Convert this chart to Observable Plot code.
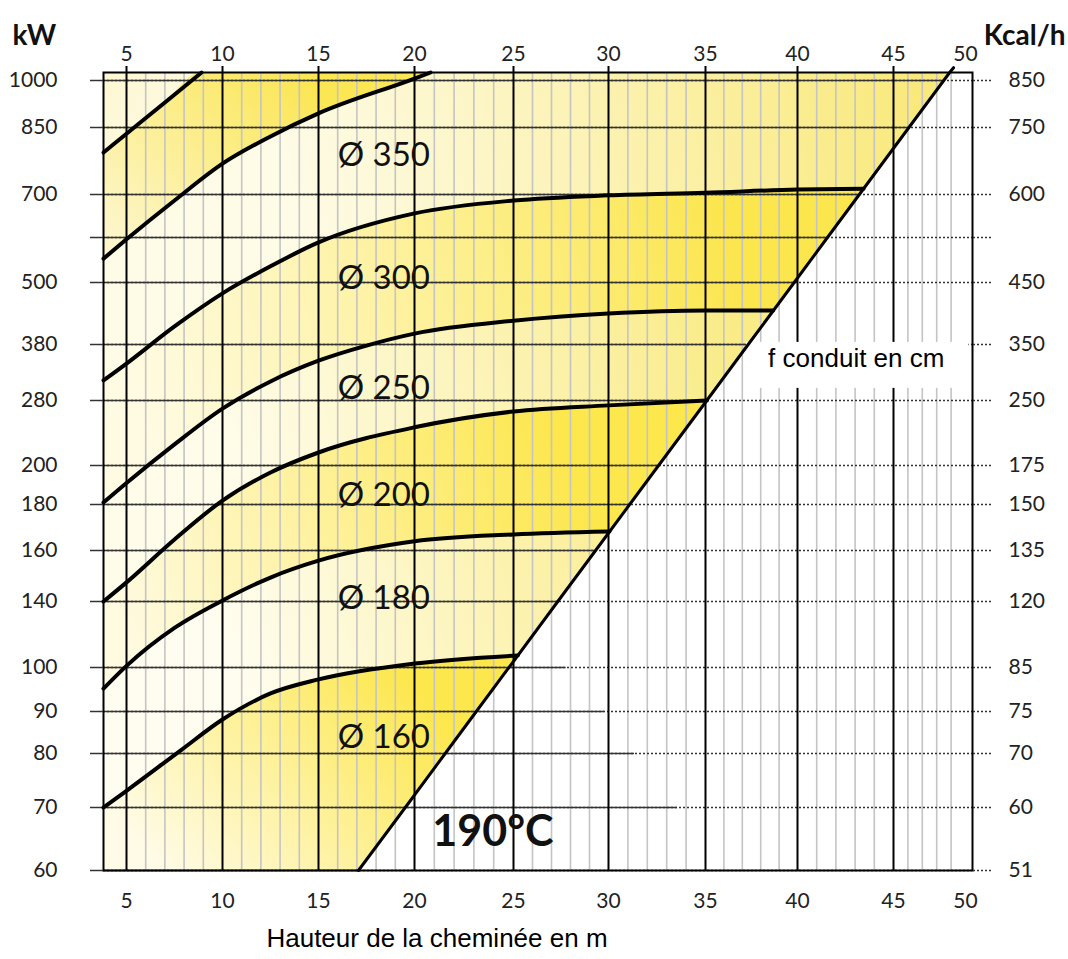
<!DOCTYPE html>
<html><head><meta charset="utf-8">
<script src="https://cdn.jsdelivr.net/npm/d3@7"></script>
<script src="https://cdn.jsdelivr.net/npm/@observablehq/plot@0.6"></script>
<style>html,body{margin:0;padding:0;background:#fff;overflow:hidden}#chart svg{display:block}</style>
</head><body><div id="chart"></div>
<script>
// ---------- data ----------
const kwTicks   = [60, 70, 80, 90, 100, 140, 160, 180, 200, 280, 380, 500, 600, 700, 850, 1000];
const kwLabels  = ["60","70","80","90","100","140","160","180","200","280","380","500","","700","850","1000"];
const kcalLabels= ["51","60","70","75","85","120","135","150","175","250","350","450","","600","750","850"];
const heightTicks = [5, 10, 15, 20, 25, 30, 35, 40, 45, 50];
const majorLines  = [5, 10, 15, 20, 25, 30, 35, 40, 45];
const minorLines  = [6,7,8,9,11,12,13,14,16,17,18,19,21,22,23,24,26,27,28,29,31,32,33,34,36,37,38,39,41,42,43,44,46,47,48,49];
// where each kW row stops being solid (m)
const rowSolidEnd = [17.08, 33.56, 31.34, 29.79, 27.77, 27.33, 29.32, 31.09, 32.58, 35.07, 37.32, 39.82, 41.56, 43.22, 46.07, 48.49];

// 190°C limit line
const diagH  = [17.08, 19.52, 21.55, 23.12, 24.77, 27.33, 29.32, 31.09, 32.58, 35.07, 37.32, 39.82, 41.56, 43.22, 46.07, 48.49, 48.90, 49.17];
const diagKw = [60, 70, 80, 90, 100, 140, 160, 180, 200, 280, 380, 500, 600, 700, 850, 1000, 1025, 1040];

// boundary curves (height m, power kW)
const c1H  = [3.8, 5, 7, 8.91];
const c1Kw = [794, 836, 930, 1025];
const c2H  = [3.8, 5, 7.5, 10, 12.5, 15, 20, 20.81];
const c2Kw = [553, 596, 686, 769, 830, 895, 1006, 1025];
const c3H  = [3.8, 5, 7.5, 10, 12.5, 15, 20, 25, 30, 35, 40, 43.44];
const c3Kw = [316, 346, 415, 479, 536, 589, 656, 686, 698, 704, 711, 713];
const c4H  = [3.8, 5, 7.5, 10, 12.5, 15, 17.5, 20, 25, 30, 35, 38.68];
const c4Kw = [181, 191, 226, 270, 314, 351, 378, 401, 426, 440, 446, 446];
const c5H  = [3.8, 5, 7.5, 10, 12.5, 15, 20, 25, 30, 35.07];
const c5Kw = [140, 147.5, 164.8, 182, 196.4, 216, 247, 266.5, 274, 280];
const c6H  = [3.8, 5, 7.5, 10, 12.5, 15, 20, 25, 30.05];
const c6Kw = [95.2, 101, 124, 140.4, 149.4, 156, 164, 167, 168.3];
const c7H  = [3.8, 5, 7.81, 10, 12.5, 15, 20, 25.23];
const c7Kw = [70, 73.1, 80.7, 88.1, 94.1, 97.3, 102.4, 107.3];

const bandNames = ["Ø 350", "Ø 300", "Ø 250", "Ø 200", "Ø 180", "Ø 160"];
const bandLabelKw = [787, 508, 301, 184.6, 141.2, 83.8];
const bandLabelH = 16.0;

const tempLabel = "190°C";
const annotationText = "f conduit en cm";
const titleText = "Hauteur de la cheminée en m";

// ---------- layout / style config ----------
const X_DOMAIN = [3.8, 5, 10, 15, 20, 25, 30, 35, 40, 45, 50];
const X_RANGE  = [103, 126, 222, 318, 414, 513, 608, 705, 797, 893, 965];
const Y_DOMAIN = [60, 70, 80, 90, 100, 140, 160, 180, 200, 280, 380, 500, 600, 700, 850, 1000, 1025];
const Y_RANGE  = [870, 807, 753, 711, 667, 601, 550, 504, 465, 400, 344, 282, 237, 194, 127, 80, 72];
const TOP = 1025, BOTTOM = 60, LEFT = 3.8, RIGHT = 50, DIAG_TOP_H = 48.90;
const TICK_FONT = 21;

const bandFills = [
  {id: "g0", from: [3.8, 1025], to: [9, 800],  c0: "#fdf7d2", c1: "#fefbe6"},
  {id: "g1", from: [14, 1025], to: [5, 560],   c0: "#fbe654", c1: "#fdf6cc"},
  {id: "g2", from: [47, 950],  to: [14, 640],  c0: "#f9e97c", c1: "#fefbe6"},
  {id: "g3", from: [36, 690],  to: [5, 330],   c0: "#fbe64e", c1: "#fffbe3"},
  {id: "g4", from: [37, 440],  to: [10, 220],  c0: "#f9eb85", c1: "#fffcea"},
  {id: "g5", from: [27, 265],  to: [4, 150],   c0: "#fce74d", c1: "#fffae0"},
  {id: "g6", from: [29, 168],  to: [10, 115],  c0: "#fbef9c", c1: "#fffdf0"},
  {id: "g7", from: [19, 102],  to: [7, 60],    c0: "#fce74d", c1: "#fffbe6"}
];

// ---------- build tables ----------
const rows = (h, kw) => h.map((x, i) => ({h: x, kw: kw[i]}));
const curves = [rows(c1H, c1Kw), rows(c2H, c2Kw), rows(c3H, c3Kw), rows(c4H, c4Kw), rows(c5H, c5Kw), rows(c6H, c6Kw), rows(c7H, c7Kw)];
const diag = rows(diagH, diagKw);
const gridRows = kwTicks.map((kw, i) => ({kw, end: rowSolidEnd[i]}));
const bandLabels = bandNames.map((t, i) => ({t, kw: bandLabelKw[i]}));
const kwFmt = new Map(kwTicks.map((k, i) => [k, kwLabels[i]]));
const kcalFmt = new Map(kwTicks.map((k, i) => [k, kcalLabels[i]]));

// fill regions: area below each boundary (stacked, top to bottom)
const topEdge = [{h: LEFT, kw: TOP}, {h: DIAG_TOP_H, kw: TOP}];
const fillShapes = [
  topEdge,
  [...curves[0], {h: DIAG_TOP_H, kw: TOP}],
  [...curves[1], {h: DIAG_TOP_H, kw: TOP}],
  curves[2], curves[3], curves[4], curves[5], curves[6]
];

const marks = [];
fillShapes.forEach((d, i) => marks.push(
  Plot.areaY(d, {x: "h", y1: BOTTOM, y2: "kw", curve: "monotone-x", fill: `url(#${bandFills[i].id})`})
));
// white region beyond the 190°C line
marks.push(Plot.areaX(diag, {y: "kw", x1: "h", x2: RIGHT, fill: "white", curve: "linear"}));
// grid
marks.push(Plot.ruleX(minorLines, {stroke: "#c4c4c4", strokeWidth: 1.6}));
marks.push(Plot.ruleY(kwTicks, {stroke: "#333", strokeWidth: 1.4, strokeDasharray: "2,2"}));
marks.push(Plot.ruleY(gridRows, {y: "kw", x1: LEFT, x2: "end", stroke: "#333", strokeWidth: 1.5}));
marks.push(Plot.ruleX(majorLines, {stroke: "#000", strokeWidth: 2}));
marks.push(Plot.frame({stroke: "#000", strokeWidth: 2}));
// axes
marks.push(Plot.axisX({anchor: "top", ticks: majorLines, tickSize: 7, tickFormat: () => "", stroke: "#000", strokeWidth: 2, label: null}));
marks.push(Plot.axisX({anchor: "top", ticks: heightTicks, tickSize: 0, tickPadding: 12, fontSize: TICK_FONT, label: null}));
marks.push(Plot.axisX({anchor: "bottom", ticks: heightTicks, tickSize: 0, tickPadding: 23, fontSize: TICK_FONT, label: null}));
marks.push(Plot.axisY({anchor: "left", ticks: kwTicks, tickSize: 13, tickPadding: 33, fontSize: TICK_FONT, tickFormat: d => kwFmt.get(d), stroke: "#333", strokeWidth: 1.5, label: null}));
marks.push(Plot.axisY({anchor: "right", ticks: kwTicks, tickSize: 18, tickPadding: 18, fontSize: TICK_FONT, tickFormat: d => kcalFmt.get(d), stroke: "#333", strokeWidth: 1.5, strokeDasharray: "2,2", label: null}));
// annotation (white box added after render)
marks.push(Plot.text([annotationText], {x: 43.06, y: 354, fontFamily: "Liberation Sans, Arial, sans-serif", fontSize: 26, fill: "#000"}));
// curves and limit line
curves.forEach(d => marks.push(Plot.line(d, {x: "h", y: "kw", curve: "monotone-x", stroke: "#000", strokeWidth: 4})));
marks.push(Plot.line(diag, {x: "h", y: "kw", curve: "linear", stroke: "#000", strokeWidth: 3}));
// labels
marks.push(Plot.text(bandLabels, {x: bandLabelH, y: "kw", text: "t", textAnchor: "start", fontSize: 33, fill: "#111"}));
marks.push(Plot.text([tempLabel], {x: 20.9, y: 66, textAnchor: "start", fontSize: 43, fontWeight: "bold", fill: "#111"}));
marks.push(Plot.text(["kW"], {frameAnchor: "top-left", dx: -91, dy: -47, textAnchor: "start", fontSize: 28, fontWeight: "bold", fill: "#111"}));
marks.push(Plot.text(["Kcal/h"], {frameAnchor: "top-right", dx: 93, dy: -47, textAnchor: "end", fontSize: 28, fontWeight: "bold", fill: "#111"}));
marks.push(Plot.text([titleText], {frameAnchor: "bottom", dx: -101, dy: 76, fontFamily: "Liberation Sans, Arial, sans-serif", fontSize: 26, fill: "#000"}));

const plot = Plot.plot({
  width: 1068, height: 959,
  marginLeft: 103, marginRight: 96, marginTop: 72, marginBottom: 89,
  x: {type: "linear", domain: X_DOMAIN, range: X_RANGE},
  y: {type: "linear", domain: Y_DOMAIN, range: Y_RANGE},
  style: {fontFamily: "Lato, sans-serif", fontSize: "21px", color: "#222", background: "white", overflow: "visible"},
  marks
});
document.getElementById("chart").appendChild(plot);

// gradients defined in data space, converted with Plot's own scales
const sx = plot.scale("x"), sy = plot.scale("y");
const svg = d3.select(plot);
const defs = svg.insert("defs", ":first-child");
for (const b of bandFills) {
  const g = defs.append("linearGradient").attr("id", b.id).attr("gradientUnits", "userSpaceOnUse")
    .attr("x1", sx.apply(b.from[0])).attr("y1", sy.apply(b.from[1]))
    .attr("x2", sx.apply(b.to[0])).attr("y2", sy.apply(b.to[1]));
  g.append("stop").attr("offset", 0).attr("stop-color", b.c0);
  g.append("stop").attr("offset", 1).attr("stop-color", b.c1);
}
// white box behind the annotation
const ann = svg.selectAll("text").filter(function () { return this.textContent === annotationText; }).node();
if (ann) {
  const bb = ann.getBBox();
  const r = document.createElementNS("http://www.w3.org/2000/svg", "rect");
  r.setAttribute("x", bb.x - 22); r.setAttribute("y", bb.y - 1.5);
  r.setAttribute("width", bb.width + 46); r.setAttribute("height", 46);
  r.setAttribute("fill", "white"); r.setAttribute("stroke", "none");
  const tf = ann.getAttribute("transform");
  if (tf) r.setAttribute("transform", tf);
  ann.parentNode.insertBefore(r, ann);
}
</script>
</body></html>
